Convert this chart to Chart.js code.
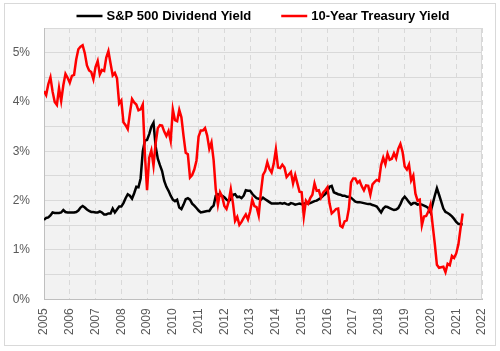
<!DOCTYPE html>
<html>
<head>
<meta charset="utf-8">
<script src="https://cdn.jsdelivr.net/npm/chart.js@4.4.1/dist/chart.umd.min.js"></script>
<style>
  html, body { margin: 0; padding: 0; background: #fff; }
</style>
</head>
<body>
<canvas id="yieldChart" width="500" height="351"></canvas>
<script>
// monthly values, first point = start of Jan 2005
const startYear = 2005;
const seriesNames = ['S&P 500 Dividend Yield', '10-Year Treasury Yield'];

const dividendYield = [
    1.61, 1.65, 1.66, 1.70, 1.76, 1.75, 1.75, 1.75, 1.76, 1.81, 1.77, 1.76,
    1.76, 1.76, 1.76, 1.77, 1.80, 1.86, 1.89, 1.86, 1.82, 1.79, 1.77, 1.77,
    1.76, 1.76, 1.78, 1.76, 1.72, 1.72, 1.74, 1.74, 1.84, 1.76, 1.82, 1.88,
    1.88, 1.95, 2.05, 2.13, 2.10, 2.04, 2.15, 2.28, 2.27, 2.45, 3.00, 3.22,
    3.23, 3.35, 3.50, 3.58, 3.10, 2.85, 2.72, 2.60, 2.40, 2.28, 2.20, 2.10,
    2.02, 1.99, 2.02, 1.86, 1.83, 1.92, 2.03, 2.05, 2.02, 1.94, 1.90, 1.85,
    1.80, 1.76, 1.77, 1.78, 1.79, 1.79, 1.86, 1.90, 2.10, 2.13, 2.10, 2.10,
    2.07, 2.02, 1.99, 2.03, 2.12, 2.13, 2.07, 2.08, 2.05, 2.10, 2.21, 2.20,
    2.20, 2.14, 2.09, 2.05, 2.04, 2.02, 2.06, 2.03, 2.00, 1.97, 1.94, 1.94,
    1.94, 1.94, 1.95, 1.94, 1.95, 1.93, 1.92, 1.95, 1.94, 1.92, 1.93, 1.94,
    1.93, 1.94, 1.95, 1.94, 1.95, 1.97, 1.99, 2.00, 2.03, 2.06, 2.10, 2.13,
    2.20, 2.28, 2.30, 2.17, 2.15, 2.13, 2.12, 2.10, 2.10, 2.08, 2.08, 2.06,
    2.02, 1.98, 1.97, 1.97, 1.96, 1.95, 1.94, 1.93, 1.93, 1.91, 1.90, 1.88,
    1.82, 1.76, 1.84, 1.88, 1.87, 1.85, 1.83, 1.81, 1.82, 1.85, 1.93, 2.03,
    2.08, 2.03, 1.97, 1.92, 1.95, 1.95, 1.92, 1.93, 1.92, 1.90, 1.88, 1.85,
    1.76, 1.93, 2.10, 2.25, 2.12, 1.98, 1.84, 1.77, 1.75, 1.72, 1.68, 1.63,
    1.57, 1.53, 1.52, 1.52
];

const treasuryYield = [
    4.22,
    4.14, 4.36, 4.50, 4.21, 4.00, 3.94, 4.28, 4.02, 4.34, 4.57, 4.49, 4.39,
    4.53, 4.55, 4.86, 5.07, 5.12, 5.15, 4.99, 4.74, 4.64, 4.61, 4.46, 4.71,
    4.83, 4.56, 4.65, 4.63, 4.90, 5.03, 4.78, 4.54, 4.59, 4.48, 3.97, 4.03,
    3.59, 3.53, 3.45, 3.77, 4.06, 3.99, 3.95, 3.83, 3.85, 3.95, 2.93, 2.21,
    2.87, 3.02, 2.71, 3.16, 3.47, 3.53, 3.52, 3.40, 3.31, 3.41, 3.21, 3.85,
    3.63, 3.61, 3.84, 3.69, 3.31, 2.97, 2.94, 2.47, 2.52, 2.63, 2.81, 3.30,
    3.42, 3.42, 3.47, 3.32, 3.05, 3.18, 2.82, 2.23, 1.92, 2.17, 2.08, 1.89,
    1.83, 1.98, 2.23, 1.95, 1.59, 1.67, 1.51, 1.57, 1.65, 1.72, 1.62, 1.78,
    2.02, 1.89, 1.87, 1.70, 2.16, 2.52, 2.60, 2.78, 2.64, 2.57, 2.75, 3.04,
    2.67, 2.66, 2.73, 2.67, 2.48, 2.53, 2.58, 2.35, 2.52, 2.35, 2.18, 2.17,
    1.68, 2.00, 1.94, 2.05, 2.12, 2.35, 2.20, 2.21, 2.06, 2.16, 2.21, 2.27,
    1.94, 1.74, 1.78, 1.83, 1.84, 1.49, 1.46, 1.58, 1.60, 1.84, 2.37, 2.45,
    2.45, 2.36, 2.40, 2.29, 2.21, 2.31, 2.30, 2.12, 2.33, 2.38, 2.42, 2.40,
    2.72, 2.87, 2.74, 2.95, 2.83, 2.85, 2.96, 2.86, 3.05, 3.15, 2.99, 2.69,
    2.63, 2.73, 2.41, 2.51, 2.14, 2.00, 2.02, 1.50, 1.68, 1.69, 1.78, 1.92,
    1.51, 1.13, 0.70, 0.64, 0.65, 0.66, 0.55, 0.72, 0.69, 0.88, 0.84, 0.93,
    1.11, 1.44, 1.74
];

const yearTicks = [2005, 2006, 2007, 2008, 2009, 2010, 2011, 2012, 2013,
    2014, 2015, 2016, 2017, 2018, 2019, 2020, 2021, 2022];
const percentTicks = [0, 1, 2, 3, 4, 5];

function toPoints(values) {
    return values.map((v, i) => ({ x: startYear + i / 12, y: v }));
}

const tickFont = { family: '"Liberation Sans", Arial, sans-serif', size: 12 };

// plot background, outer frame, right edge and the legend
const chartDecor = {
    id: 'chartDecor',
    beforeDraw(chart) {
        const { ctx, chartArea: a } = chart;
        ctx.save();
        ctx.fillStyle = '#ffffff';
        ctx.fillRect(0, 0, chart.width, chart.height);
        ctx.fillStyle = '#f2f2f2';
        ctx.fillRect(a.left, a.top, a.right - a.left, a.bottom - a.top);
        ctx.strokeStyle = '#d9d9d9';
        ctx.lineWidth = 1;
        ctx.strokeRect(4.5, 3.5, 491, 342);
        ctx.restore();
    },
    beforeDatasetsDraw(chart) {
        const { ctx, chartArea: a } = chart;
        const x = Math.round(a.right) - 0.5;
        ctx.save();
        ctx.strokeStyle = '#d9d9d9';
        ctx.lineWidth = 1;
        ctx.beginPath();
        ctx.moveTo(x, a.top);
        ctx.lineTo(x, a.bottom);
        ctx.stroke();
        ctx.restore();
    },
    afterDraw(chart) {
        const { ctx, chartArea: a } = chart;
        const sample = 26, gap = 4, itemGap = 30, y = 16;
        ctx.save();
        ctx.font = 'bold 13px "Liberation Sans", Arial, sans-serif';
        ctx.textBaseline = 'middle';
        const sets = chart.data.datasets;
        const widths = sets.map(ds => sample + gap + ctx.measureText(ds.label).width);
        const total = widths.reduce((s, w) => s + w, 0) + itemGap * (sets.length - 1);
        let x = (a.left + a.right) / 2 - total / 2;
        sets.forEach((ds, i) => {
            ctx.strokeStyle = ds.borderColor;
            ctx.lineWidth = ds.borderWidth;
            ctx.beginPath();
            ctx.moveTo(x, y);
            ctx.lineTo(x + sample, y);
            ctx.stroke();
            ctx.fillStyle = '#000000';
            ctx.fillText(ds.label, x + sample + gap, y + 0.5);
            x += widths[i] + itemGap;
        });
        ctx.restore();
    }
};

const ctx = document.getElementById('yieldChart').getContext('2d');
new Chart(ctx, {
    type: 'line',
    data: {
        datasets: [{
            label: seriesNames[0],
            data: toPoints(dividendYield),
            borderColor: '#000000',
            backgroundColor: '#000000',
            borderWidth: 2.5,
            pointRadius: 0,
            tension: 0,
            order: 1
        }, {
            label: seriesNames[1],
            data: toPoints(treasuryYield),
            borderColor: '#ff0000',
            backgroundColor: '#ff0000',
            borderWidth: 2.5,
            pointRadius: 0,
            tension: 0,
            order: 0
        }]
    },
    options: {
        responsive: false,
        animation: false,
        devicePixelRatio: 1,
        layout: { padding: { top: 28, right: 18, bottom: 7, left: 0 } },
        plugins: {
            legend: { display: false },
            tooltip: { enabled: false }
        },
        scales: {
            x: {
                type: 'linear',
                min: yearTicks[0],
                max: yearTicks[yearTicks.length - 1],
                afterBuildTicks: scale => {
                    scale.ticks = yearTicks.map(v => ({ value: v }));
                },
                afterFit: scale => {
                    scale.paddingLeft = 0;
                    scale.paddingRight = 0;
                },
                ticks: {
                    autoSkip: false,
                    minRotation: 90,
                    maxRotation: 90,
                    padding: 9,
                    color: '#595959',
                    font: tickFont,
                    callback: v => String(v)
                },
                grid: { color: '#d9d9d9', drawTicks: false },
                border: { color: '#bfbfbf', dash: [5, 4] }
            },
            y: {
                min: 0,
                max: 5.5,
                afterFit: scale => { scale.width = 44; },
                ticks: {
                    stepSize: 0.5,
                    padding: 14,
                    color: '#595959',
                    font: tickFont,
                    callback: v => percentTicks.includes(v) ? v + '%' : ''
                },
                grid: { color: '#d9d9d9', drawTicks: false },
                border: { color: '#bfbfbf' }
            }
        }
    },
    plugins: [chartDecor]
});
</script>
</body>
</html>
